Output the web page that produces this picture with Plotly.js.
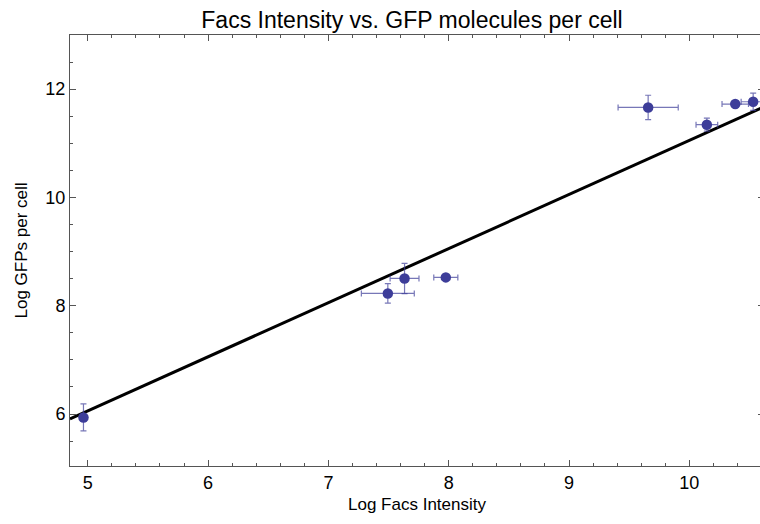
<!DOCTYPE html>
<html>
<head>
<meta charset="utf-8">
<script src="https://cdn.plot.ly/plotly-3.0.1.min.js"></script>
<style>
  html, body { margin: 0; padding: 0; overflow: hidden; background: #fff; }
  #chart { width: 764px; height: 524px; }
</style>
</head>
<body>
<div id="chart"></div>
<script>
// Measured samples: log FACS intensity vs. log GFP molecules per cell
const logFacs    = [4.964, 7.494, 7.633, 7.976, 9.658, 10.146, 10.382, 10.531];
const logGfp     = [5.937, 8.227, 8.504, 8.523, 11.662, 11.343, 11.725, 11.767];
const facsErr    = [0.02, 0.22, 0.12, 0.10, 0.25, 0.09, 0.11, 0.10];
const gfpErr     = [0.25, 0.18, 0.28, 0.05, 0.225, 0.12, 0.05, 0.16];

// Linear fit of the data
const fitSlope = 0.999;
const fitIntercept = 1.063;

const xRange = [4.852, 10.621];
const yRange = [5.04, 13.0];

const pointColor = '#3d3d99';
const errColor = 'rgba(61,61,153,0.7)';

const fitX = xRange.slice();
const fitY = fitX.map(x => fitSlope * x + fitIntercept);

const fitTrace = {
  x: fitX, y: fitY, mode: 'lines', type: 'scatter',
  line: { color: '#000', width: 3 },
  hoverinfo: 'skip', showlegend: false
};

const dataTrace = {
  x: logFacs, y: logGfp, mode: 'markers', type: 'scatter',
  marker: { color: pointColor, size: 10.5 },
  error_x: { type: 'data', array: facsErr, visible: true, color: errColor, thickness: 1.2, width: 3 },
  error_y: { type: 'data', array: gfpErr, visible: true, color: errColor, thickness: 1.2, width: 3 },
  showlegend: false
};

const frameColor = '#555';
const font = { family: 'Liberation Sans, Arial, sans-serif', color: '#000', size: 18 };

const layout = {
  width: 764, height: 524,
  margin: { l: 70, r: 0, t: 35, b: 58 },
  paper_bgcolor: '#fff', plot_bgcolor: '#fff',
  font: font,
  title: {
    text: 'Facs Intensity vs. GFP molecules per cell',
    font: { family: font.family, size: 23, color: '#000' },
    xref: 'container', x: 412 / 764, xanchor: 'center',
    yref: 'container', y: 1 - 20 / 524, yanchor: 'middle'
  },
  xaxis: {
    range: xRange, showgrid: false, zeroline: false,
    showline: true, linecolor: frameColor, linewidth: 1, mirror: 'ticks',
    ticks: 'inside', ticklen: 6, tickcolor: frameColor, tickwidth: 1,
    dtick: 1, tick0: 0,
    minor: { ticks: 'inside', dtick: 0.2, tick0: 0, ticklen: 3, tickcolor: frameColor, showgrid: false },
    tickfont: { size: 18 },
    title: { text: 'Log Facs Intensity', font: { size: 17 }, standoff: 6 }
  },
  yaxis: {
    range: yRange, showgrid: false, zeroline: false,
    showline: true, linecolor: frameColor, linewidth: 1, mirror: 'ticks',
    ticks: 'inside', ticklen: 6, tickcolor: frameColor, tickwidth: 1,
    dtick: 2, tick0: 0,
    minor: { ticks: 'inside', dtick: 0.5, tick0: 0, ticklen: 3, tickcolor: frameColor, showgrid: false },
    tickfont: { size: 18 },
    title: { text: 'Log GFPs per cell', font: { size: 17 }, standoff: 13 }
  }
};

Plotly.newPlot('chart', [fitTrace, dataTrace], layout, { displayModeBar: false, staticPlot: true });
</script>
</body>
</html>
